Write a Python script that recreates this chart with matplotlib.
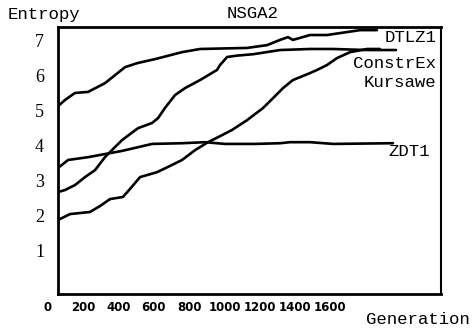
import numpy as np
import matplotlib
matplotlib.use("Agg")
from matplotlib import pyplot as plt
from matplotlib import transforms

# ============================================================================
# DATA - entropy vs generation
# ============================================================================
dtlz1Gen = [0, 40, 96, 170, 266, 323, 380, 453, 550, 703, 805, 1071, 1184, 1258, 1303, 1331, 1428, 1524, 1711, 1807]
dtlz1Ent = [5.13, 5.31, 5.51, 5.54, 5.79, 6.02, 6.25, 6.37, 6.48, 6.68, 6.77, 6.80, 6.88, 7.03, 7.11, 7.03, 7.17, 7.17, 7.31, 7.31]

constrExGen = [0, 40, 96, 153, 210, 266, 323, 363, 453, 533, 567, 606, 663, 720, 805, 901, 918, 958, 1014, 1105, 1258, 1428, 1558, 1751, 1915]
constrExEnt = [2.67, 2.73, 2.87, 3.10, 3.30, 3.67, 3.96, 4.16, 4.50, 4.65, 4.79, 5.08, 5.45, 5.65, 5.88, 6.17, 6.31, 6.54, 6.58, 6.62, 6.74, 6.77, 6.77, 6.74, 6.74]

kursaweGen = [0, 68, 181, 238, 295, 368, 408, 465, 561, 635, 703, 776, 850, 929, 986, 1071, 1162, 1218, 1275, 1331, 1428, 1468, 1524, 1581, 1655, 1751, 1824]
kursaweEnt = [1.87, 2.04, 2.10, 2.27, 2.47, 2.53, 2.76, 3.10, 3.24, 3.42, 3.59, 3.87, 4.10, 4.30, 4.45, 4.73, 5.08, 5.36, 5.65, 5.88, 6.08, 6.17, 6.31, 6.51, 6.68, 6.77, 6.77]

zdt1Gen = [0, 57, 170, 266, 363, 533, 703, 833, 946, 1116, 1258, 1315, 1428, 1558, 1898]
zdt1Ent = [3.36, 3.59, 3.67, 3.76, 3.85, 4.05, 4.07, 4.10, 4.05, 4.05, 4.07, 4.10, 4.10, 4.05, 4.07]

xTicks = [0, 200, 400, 600, 800, 1000, 1200, 1400, 1600]
yTicks = [1, 2, 3, 4, 5, 6, 7]

# ============================================================================
# FIGURE
# ============================================================================
W, H = 473, 334
fig = plt.figure(figsize=(W/100, H/100), dpi=100)
ax = fig.add_axes([58/W, 1-294/H, (441-58)/W, (294-27)/H])

lineStyle = dict(color="black", lw=1.9, solid_capstyle="round", solid_joinstyle="round")
ax.plot(dtlz1Gen, dtlz1Ent, **lineStyle)
ax.plot(constrExGen, constrExEnt, **lineStyle)
ax.plot(kursaweGen, kursaweEnt, **lineStyle)
ax.plot(zdt1Gen, zdt1Ent, **lineStyle)

ax.set_xlim(0, 2170)
ax.set_ylim(-0.25, 7.40)

ax.set_xticks(xTicks)
ax.set_xticklabels([str(t) for t in xTicks], fontfamily="DejaVu Sans", fontweight="bold", fontsize=8.5)
ax.set_yticks(yTicks)
ax.set_yticklabels([str(t) for t in yTicks], fontfamily="Liberation Serif", fontsize=13)
ax.tick_params(axis="x", length=0, pad=5)
ax.tick_params(axis="y", length=0, pad=10)

# x labels sit a little left of their ticks in the original
shift = transforms.ScaledTranslation(-10/100, 0, fig.dpi_scale_trans)
for tick in ax.xaxis.get_major_ticks():
    tick.label1.set_transform(tick.label1.get_transform() + shift)

for side in ["left", "bottom", "top"]:
    ax.spines[side].set_linewidth(2.0)
ax.spines["right"].set_linewidth(1.5)

mono = "Liberation Mono"
fs = 12.5
fig.text(8/W, 1-14/H, "Entropy", fontfamily=mono, fontsize=fs, ha="left", va="center")
fig.text(253/W, 1-13/H, "NSGA2", fontfamily=mono, fontsize=fs, ha="center", va="center")
fig.text(470/W, 1-319/H, "Generation", fontfamily=mono, fontsize=fs, ha="right", va="center")

fig.text(436/W, 1-37/H, "DTLZ1", fontfamily=mono, fontsize=fs, ha="right", va="center")
fig.text(436/W, 1-63/H, "ConstrEx", fontfamily=mono, fontsize=fs, ha="right", va="center")
fig.text(436/W, 1-82/H, "Kursawe", fontfamily=mono, fontsize=fs, ha="right", va="center")
fig.text(430/W, 1-152/H, "ZDT1", fontfamily=mono, fontsize=fs, ha="right", va="center")

fig.savefig("out.png", dpi=100)
